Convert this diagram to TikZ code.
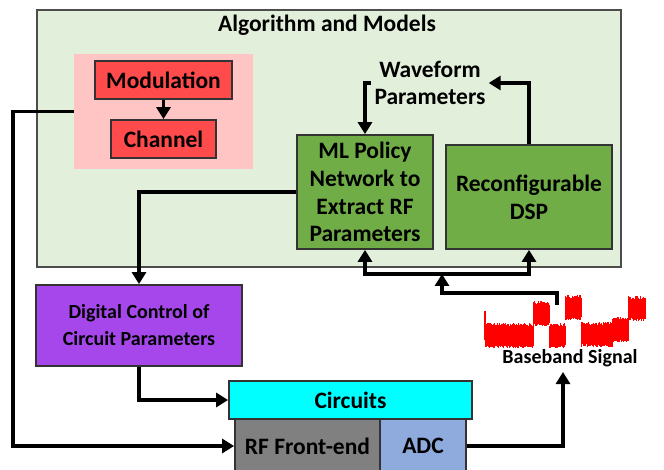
\documentclass[tikz,border=0pt]{standalone}
\usepackage{fontspec}
\setmainfont{Carlito}
\usetikzlibrary{arrows.meta,positioning}
\definecolor{algbg}{HTML}{E2EFDA}
\definecolor{chanbg}{HTML}{FFC4C4}
\definecolor{chanfill}{HTML}{FF4B4B}
\definecolor{mlfill}{HTML}{70AD47}
\definecolor{digfill}{HTML}{A547EB}
\definecolor{circfill}{HTML}{00FFFF}
\definecolor{rffill}{HTML}{808080}
\definecolor{adcfill}{HTML}{8FAADC}
\definecolor{sigred}{HTML}{FF0000}
\definecolor{edge}{HTML}{333333}
\newcommand\blockfont{\bfseries\fontsize{23.5}{27.7}\selectfont}
\newcommand\smallblockfont{\bfseries\fontsize{20}{27}\selectfont}
\newcommand\sigband[3]{
  \foreach \x in {#1,#1.5,...,#2} {
    \draw[sigred, line width=0.8pt] (\x, {#3-9-4*rnd}) -- (\x, {#3+9+3*rnd}) ;
  }
}
\tikzset{
  block/.style={draw=edge, line width=1.8pt, inner sep=0pt, align=center, font=\blockfont},
  flow/.style={line width=3.2pt, -{Triangle[length=12pt,width=14pt]}},
}

\begin{document}
\begin{tikzpicture}[x=1pt, y=-1pt]
    \useasboundingbox (0,0) rectangle (664,470) ;
    \node[block, draw=black!70, fill=algbg, minimum width=584, minimum height=257] (alg) at (329,138.5) {} ;
    \node[font=\blockfont] (algtitle) at (327,25) {Algorithm and Models} ;
    \node[fill=chanbg, inner sep=0pt, minimum width=179, minimum height=115] (chanbox) at (163.5,111.5) {} ;
    \node[block, fill=chanfill, minimum width=137, minimum height=38] (mod) at (163.5,80) {Modulation} ;
    \node[block, fill=chanfill, minimum width=105, minimum height=38] (chan) at (163.5,139) {Channel} ;
    \node[block, fill=mlfill, minimum width=136, minimum height=114] (ml) at (365,192) {ML Policy\\Network to\\Extract RF\\Parameters} ;
    \node[block, fill=mlfill, minimum width=166, minimum height=104] (dsp) at (529,197) {Reconfigurable\\DSP} ;
    \node[align=center, font=\blockfont, inner sep=3pt] (wf) at (430,83) {Waveform\\Parameters} ;
    \node[block, fill=digfill, font=\smallblockfont, minimum width=206, minimum height=81] (dig) at (139,325.5) {Digital Control of\\Circuit Parameters} ;
    \node[block, fill=circfill, minimum width=243, minimum height=38] (circ) at (350.5,400) {Circuits} ;
    \node[block, fill=rffill, minimum width=145, minimum height=54] (rf) at (307.5,446) {RF Front-end} ;
    \node[block, fill=adcfill, minimum width=86, minimum height=54] (adc) at (423,446) {ADC} ;
    \node[font=\smallblockfont] (bbtext) at (570,358) {Baseband Signal} ;
    \sigband{485}{533}{336}
    \sigband{533}{549}{314}
    \sigband{549}{565}{336}
    \sigband{565}{581}{308}
    \sigband{581}{612}{335}
    \sigband{612}{628}{330}
    \sigband{628}{645}{309}
    \draw[sigred, line width=1.5pt] (485,311) -- (485,340) ;
    \coordinate (lrail) at (13,111.5) ;
    \coordinate (sigtop) at (557,305) ;
    \coordinate (sigbend) at (442,293) ;
    \coordinate (split) at (442,274) ;
    \coordinate (bbin) at (563,372) ;
    \draw[flow] (mod) -- (chan) ;
    \draw[flow] (wf.west) -| (ml.north) ;
    \draw[flow] (dsp.north) |- (wf.east) ;
    \draw[flow] (sigtop) |- (sigbend) -- (split) ;
    \draw[flow] (split) -| (ml.south) ;
    \draw[flow] (split) -| (dsp.south) ;
    \draw[flow] (ml.west) -| (dig.north) ;
    \draw[flow] (dig.south) |- (circ.west) ;
    \draw[flow] (chanbox.west) -- (lrail) |- (rf.west) ;
    \draw[flow] (adc.east) -| (bbin) ;
\end{tikzpicture}
\end{document}
